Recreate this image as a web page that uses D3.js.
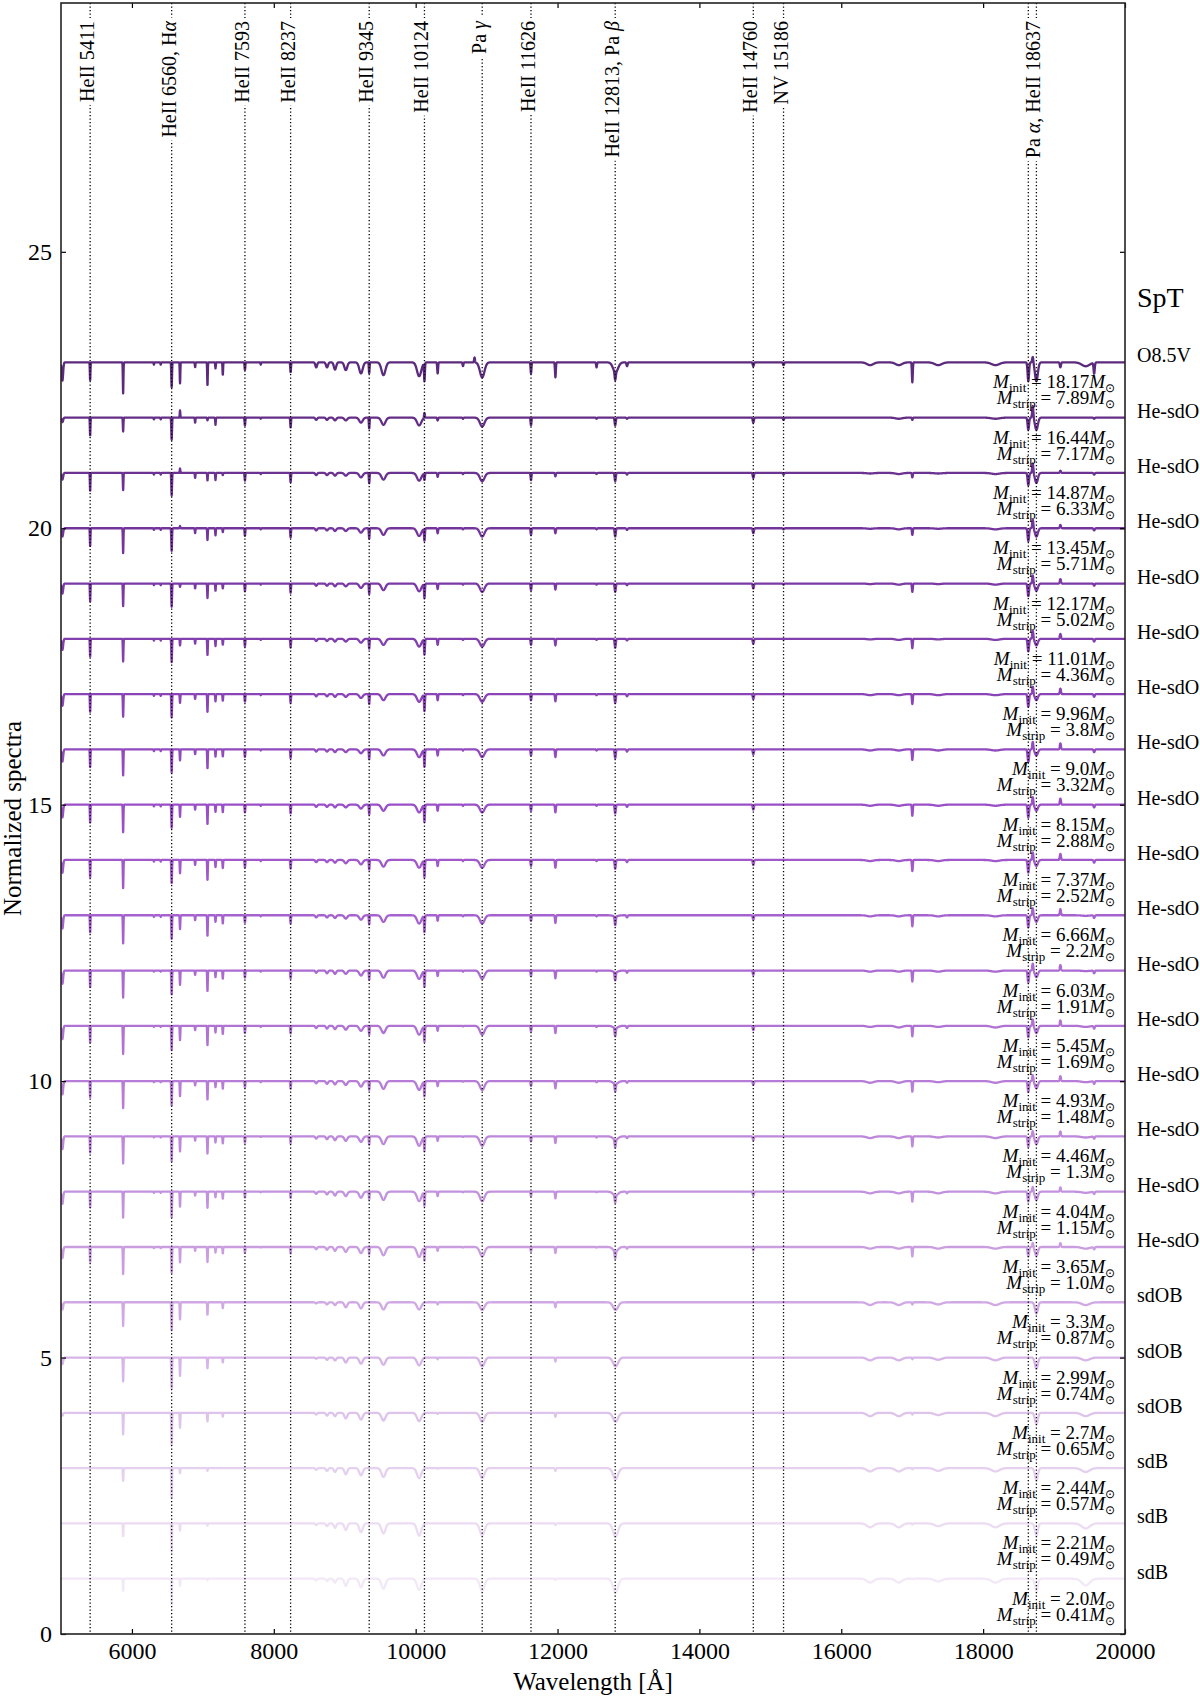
<!DOCTYPE html>
<html>
<head>
<meta charset="utf-8">
<script src="https://cdn.jsdelivr.net/npm/d3@7/dist/d3.min.js"></script>
<style>
  body { margin: 0; background: #fff; }
  text { font-family: "Liberation Serif", "Times New Roman", serif; fill: #000; }
</style>
</head>
<body>
<div id="chart"></div>
<script>
// Spectral features: centre wavelength (A) and gaussian width (A)
let featWave  = [5020, 5411, 5876, 6310, 6406, 6560, 6678, 6891, 7065, 7178, 7281, 7593, 7816, 8237,
                 8598, 8750, 8863, 9015, 9229, 9345, 9546, 10049, 10124, 10310, 10667, 10830, 10938,
                 11626, 11970, 12550, 12813, 12818, 12980, 14760, 15186, 16407, 16811, 17002, 17367,
                 18174, 18637, 18700, 18751, 19089, 19446, 19565];
let featSigma = [10, 4, 4, 4, 4, 5, 4, 4, 4, 4, 4, 5, 4, 5,
                 12, 14, 16, 20, 24, 5, 28, 30, 6, 6, 6, 6, 32,
                 6, 6, 6, 8, 35, 8, 8, 8, 45, 45, 6, 50,
                 55, 10, 8, 20, 8, 55, 8];

// Line depths (percent of continuum, negative = emission), one row per spectrum, top to bottom
let depths = [
  [33,33,56,4,4,45,38,9,42,11,23,14,4,18,9,9,13,14,20,20,23,25,33,20,7,-9,27,20,27,9,14,18,7,7,5,5,5,36,5,5,34,-11,34,9,7,20],
  [8,33,25,3,3,40,-13,9,5,13,0,14,2,18,4,4,5,5,9,20,13,14,-9,5,2,0,16,14,0,2,14,0,2,9,4,0,2,4,0,2,22,-22,22,0,0,2],
  [12,33,31,3,3,41,-8,9,14,13,4,14,2,17,4,4,5,5,8,19,12,14,12,7,2,0,15,13,6,2,15,0,3,9,3,1,2,8,1,2,22,-18,18,-4,0,3],
  [15,33,45,3,3,41,-4,9,22,13,7,14,2,17,4,4,5,5,8,19,12,14,22,9,2,0,15,12,9,2,15,0,3,9,2,1,2,12,1,2,23,-16,15,-6,0,4],
  [18,33,41,3,3,42,6,9,27,13,9,14,2,17,4,4,5,5,8,19,12,14,26,10,2,0,15,12,11,2,15,0,3,9,2,1,2,15,1,2,23,-15,13,-8,0,4],
  [20,33,41,3,3,42,12,9,30,13,11,14,2,16,4,4,5,5,7,18,11,14,28,11,2,0,14,11,12,2,16,0,3,9,1,1,2,17,1,2,23,-15,12,-9,0,5],
  [21,33,41,3,3,42,16,9,33,13,12,14,2,16,4,4,5,5,7,18,11,14,30,11,2,0,14,11,13,2,16,0,4,9,1,2,2,18,2,2,23,-14,11,-10,0,5],
  [22,33,47,3,3,42,20,9,35,13,13,14,2,16,4,4,5,5,7,18,11,14,31,11,2,0,14,11,14,2,16,0,4,9,0,2,2,19,2,2,23,-14,11,-11,0,5],
  [23,33,50,3,3,42,22,9,36,13,14,14,2,16,4,4,5,5,7,18,11,14,31,11,2,0,14,11,14,2,16,0,4,9,0,2,2,20,2,2,23,-14,11,-11,0,5],
  [23,32,51,3,3,42,24,9,37,13,15,14,2,16,4,4,5,6,8,18,12,14,31,11,2,0,14,11,14,2,16,0,4,9,0,2,2,20,2,2,23,-14,11,-11,0,5],
  [24,32,51,3,3,43,25,9,38,12,15,13,2,15,4,4,5,6,8,17,12,15,30,10,2,0,15,10,14,2,16,2,4,8,0,2,2,20,2,2,22,-13,12,-11,1,5],
  [24,31,49,2,2,43,26,8,38,12,15,13,2,15,4,5,6,6,9,17,13,15,29,10,2,0,15,10,14,2,15,3,4,8,0,2,2,20,2,2,22,-13,12,-10,1,5],
  [24,31,51,2,2,44,26,8,36,12,15,13,2,14,4,5,6,7,9,16,13,16,28,9,1,0,16,10,13,2,15,4,4,8,0,2,3,19,2,3,21,-12,13,-10,2,5],
  [24,30,49,2,2,44,27,8,34,11,14,12,2,14,4,5,6,7,10,16,14,16,27,9,1,0,16,9,13,2,14,5,3,7,0,3,3,19,2,3,20,-11,13,-9,2,5],
  [23,30,49,2,2,45,27,8,32,11,13,12,1,13,4,5,7,8,10,15,14,17,26,8,1,0,17,9,12,2,14,6,3,7,0,3,3,18,2,3,19,-10,14,-9,2,4],
  [22,29,47,2,2,46,27,7,30,10,13,11,1,12,4,5,7,8,11,14,15,17,25,8,1,0,17,8,12,1,13,7,3,7,0,3,3,18,3,3,18,-9,15,-8,2,4],
  [20,28,49,2,2,47,28,7,28,10,12,11,1,12,4,5,7,9,11,14,15,18,24,7,1,0,17,8,11,1,13,8,3,6,0,3,3,17,3,3,17,-8,16,-7,3,4],
  [13,0,43,0,0,51,31,0,23,0,11,0,0,0,2,4,5,9,11,0,13,13,0,4,0,0,14,0,9,0,0,14,0,0,0,5,5,4,4,5,0,0,20,0,5,0],
  [12,0,43,0,0,56,33,0,20,0,9,0,0,0,2,4,5,9,11,0,13,14,0,3,0,0,16,0,7,0,0,16,0,0,0,5,5,3,4,5,0,0,20,0,5,0],
  [5,0,39,0,0,58,27,0,16,0,7,0,0,0,3,5,6,10,12,0,14,15,0,2,0,0,16,0,7,0,0,16,0,0,0,6,6,3,4,6,0,0,20,0,6,0],
  [0,0,23,0,0,54,9,0,5,0,0,0,0,0,3,5,7,11,13,0,16,18,0,1,0,0,18,0,5,0,0,20,0,0,0,6,6,2,5,6,0,0,22,0,7,0],
  [0,0,23,0,0,51,13,0,4,0,0,0,0,0,3,5,8,12,16,0,18,22,0,0,0,0,22,0,3,0,0,24,0,0,0,7,7,2,5,7,0,0,22,0,9,0],
  [0,0,22,0,0,47,13,0,3,0,0,0,0,0,3,4,7,13,16,0,18,20,0,0,0,0,22,0,2,0,0,25,0,0,0,7,7,1,5,7,0,0,23,0,12,0]
];

// Vertical offsets, spectral types and masses, top to bottom
let offsets = d3.range(23, 0, -1);
let spType = ['O8.5V', 'He-sdO', 'He-sdO', 'He-sdO', 'He-sdO', 'He-sdO', 'He-sdO', 'He-sdO', 'He-sdO',
              'He-sdO', 'He-sdO', 'He-sdO', 'He-sdO', 'He-sdO', 'He-sdO', 'He-sdO', 'He-sdO',
              'sdOB', 'sdOB', 'sdOB', 'sdB', 'sdB', 'sdB'];
let mInit  = ['18.17', '16.44', '14.87', '13.45', '12.17', '11.01', '9.96', '9.0', '8.15', '7.37', '6.66',
              '6.03', '5.45', '4.93', '4.46', '4.04', '3.65', '3.3', '2.99', '2.7', '2.44', '2.21', '2.0'];
let mStrip = ['7.89', '7.17', '6.33', '5.71', '5.02', '4.36', '3.8', '3.32', '2.88', '2.52', '2.2',
              '1.91', '1.69', '1.48', '1.3', '1.15', '1.0', '0.87', '0.74', '0.65', '0.57', '0.49', '0.41'];

// Marked lines
let markWaves = [5411, 6560, 7593, 8237, 9345, 10124, 10938, 11626, 12813, 14760, 15186, 18637, 18751];
let labelWaves = [5411, 6560, 7593, 8237, 9345, 10124, 10938, 11626, 12813, 14760, 15186, 18751];
let labelText = ['HeII 5411', 'HeII 6560, Hα', 'HeII 7593', 'HeII 8237', 'HeII 9345', 'HeII 10124',
                 'Pa γ', 'HeII 11626', 'HeII 12813, Pa β', 'HeII 14760', 'NV 15186', 'Pa α, HeII 18637'];

// Ticks
let xTicks = [6000, 8000, 10000, 12000, 14000, 16000, 18000, 20000];
let yTicks = [0, 5, 10, 15, 20, 25];

// SVG setup
let svgWidth = 1200;
let svgHeight = 1698;
let margin = { top: 3, right: 75, bottom: 64, left: 61 };
let width = svgWidth - margin.left - margin.right;
let height = svgHeight - margin.top - margin.bottom;

let svg = d3.select('#chart').append('svg')
  .attr('width', svgWidth)
  .attr('height', svgHeight);

let chartGroup = svg.append('g')
  .attr('transform', `translate(${margin.left}, ${margin.top})`);

// Scales
let x = d3.scaleLinear().domain([5000, 20000]).range([0, width]);
let y = d3.scaleLinear().domain([0, 29.5]).range([height, 0]);
let color = d3.scaleLinear()
  .domain([1, 3, 6, 10, 15, 19, 23])
  .range(['#f2e8f7', '#e5d0ef', '#d0a8e4', '#b67cd7', '#9a4fc8', '#7a39a5', '#5c2a7d']);

svg.append('defs').append('clipPath').attr('id', 'plotclip')
  .append('rect').attr('width', width).attr('height', height);

// Build a spectrum from the feature table
let waveGrid = d3.range(5000, 20001, 2);
function buildSpectrum(offset, row) {
  return waveGrid.map(w => {
    let f = offset;
    for (let i = 0; i < featWave.length; i++) {
      if (row[i] === 0) continue;
      let u = (w - featWave[i]) / featSigma[i];
      if (Math.abs(u) < 5) f -= row[i] / 100 * Math.exp(-0.5 * u * u);
    }
    return [w, f];
  });
}

let line = d3.line().x(d => x(d[0])).y(d => y(d[1]));

// Spectra
let specGroup = chartGroup.append('g').attr('clip-path', 'url(#plotclip)');
offsets.forEach((k, i) => {
  specGroup.append('path')
    .attr('d', line(buildSpectrum(k, depths[i])))
    .attr('fill', 'none')
    .attr('stroke', color(k))
    .attr('stroke-width', 2.3)
    .attr('stroke-linejoin', 'round');
});

// Mass annotations
function massText(sel, name, value) {
  sel.append('tspan').attr('font-style', 'italic').text('M');
  sel.append('tspan').attr('dy', 4).attr('font-size', 13).text(name);
  sel.append('tspan').attr('dy', -4).text(' = ' + value);
  sel.append('tspan').attr('font-style', 'italic').text('M');
  sel.append('tspan').attr('dy', 4).attr('font-size', 12).text('⊙');
}
offsets.forEach((k, i) => {
  let t1 = chartGroup.append('text')
    .attr('x', x(19860)).attr('y', y(k - 0.47))
    .attr('text-anchor', 'end').attr('font-size', 19);
  massText(t1, 'init', mInit[i]);
  let t2 = chartGroup.append('text')
    .attr('x', x(19860)).attr('y', y(k - 0.76))
    .attr('text-anchor', 'end').attr('font-size', 19);
  massText(t2, 'strip', mStrip[i]);
});

// Dotted marker lines
chartGroup.selectAll('.markLine')
  .data(markWaves)
  .enter()
  .append('line')
  .attr('x1', d => x(d)).attr('x2', d => x(d))
  .attr('y1', 0).attr('y2', height)
  .attr('stroke', '#000')
  .attr('stroke-width', 1.3)
  .attr('stroke-dasharray', '1.3,2.2');

// Line labels with white boxes
labelWaves.forEach((w, i) => {
  let g = chartGroup.append('g')
    .attr('transform', `translate(${x(w)}, 18) rotate(-90)`);
  let rect = g.append('rect').attr('fill', '#fff');
  let t = g.append('text')
    .attr('text-anchor', 'end')
    .attr('dy', 4)
    .attr('font-size', 20);
  labelText[i].split(/([α-ω])/).forEach(part => {
    if (part === '') return;
    let sp = t.append('tspan').text(part);
    if (/[α-ω]/.test(part)) sp.attr('font-style', 'italic');
  });
  let bb = t.node().getBBox();
  rect.attr('x', bb.x - 3).attr('y', bb.y).attr('width', bb.width + 6).attr('height', bb.height);
});

// Axes
let bottomAxis = d3.axisBottom(x).tickValues(xTicks).tickSize(-5).tickPadding(8).tickFormat(d3.format('d'));
let topAxis = d3.axisTop(x).tickValues(xTicks).tickSize(-5).tickFormat('');
let leftAxis = d3.axisLeft(y).tickValues(yTicks).tickSize(-5).tickPadding(9);
let rightAxis = d3.axisRight(y).tickValues(yTicks).tickSize(-5).tickFormat('');

let axes = [
  chartGroup.append('g').attr('transform', `translate(0, ${height})`).call(bottomAxis),
  chartGroup.append('g').call(topAxis),
  chartGroup.append('g').call(leftAxis),
  chartGroup.append('g').attr('transform', `translate(${width}, 0)`).call(rightAxis)
];
axes.forEach(a => {
  a.select('.domain').remove();
  a.selectAll('line').attr('stroke', '#000').attr('stroke-width', 1.2);
  a.selectAll('text')
    .style('font-family', '"Liberation Serif", serif')
    .attr('font-size', 24)
    .attr('fill', '#000');
});

// Frame
chartGroup.append('rect')
  .attr('width', width).attr('height', height)
  .attr('fill', 'none')
  .attr('stroke', '#222')
  .attr('stroke-width', 1.6);

// Spectral type column
chartGroup.append('text')
  .attr('x', width + 12).attr('y', y(24))
  .attr('font-size', 28)
  .text('SpT');
chartGroup.selectAll('.spt')
  .data(offsets)
  .enter()
  .append('text')
  .attr('x', width + 12)
  .attr('y', d => y(d))
  .attr('font-size', 20)
  .text((d, i) => spType[i]);

// Axis labels
chartGroup.append('text')
  .attr('x', width / 2).attr('y', height + 56)
  .attr('text-anchor', 'middle')
  .attr('font-size', 25)
  .text('Wavelength [Å]');

chartGroup.append('text')
  .attr('transform', `translate(${21 - margin.left}, ${height / 2}) rotate(-90)`)
  .attr('text-anchor', 'middle')
  .attr('font-size', 25)
  .text('Normalized spectra');
</script>
</body>
</html>
